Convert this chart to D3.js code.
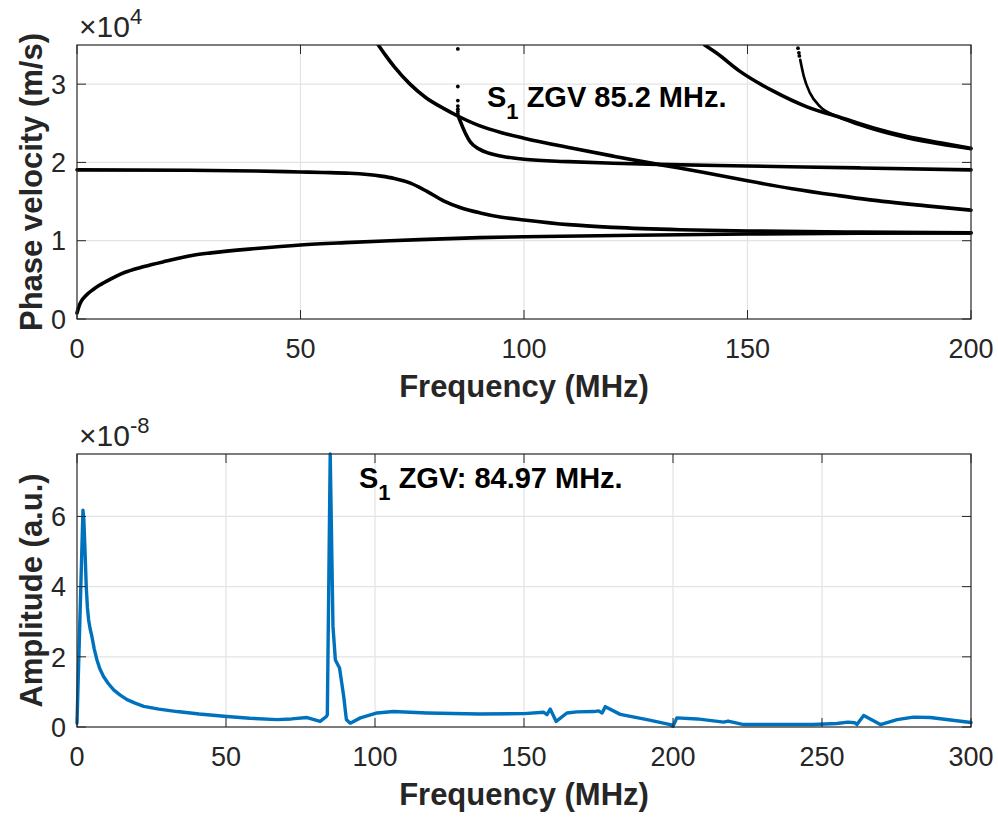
<!DOCTYPE html>
<html>
<head>
<meta charset="utf-8">
<script src="https://cdn.jsdelivr.net/npm/d3@7"></script>
<style>
  body { margin: 0; background: #fff; }
  svg text { font-family: "Liberation Sans", Arial, Helvetica, sans-serif; }
</style>
</head>
<body>
<svg id="fig" width="998" height="820"></svg>
<script>
// ---------- Dispersion curves (frequency in MHz, phase velocity in m/s) ----------
const modeA0 = [[0,770],[0.5,1700],[1,2300],[2,3000],[3.7,3800],[5,4300],[7.5,5100],[10,5800],[15,6700],
  [20,7400],[26,8150],[30,8450],[40,9000],[50,9450],[60,9750],[70,10000],[80,10200],[90,10400],
  [100,10500],[125,10700],[150,10850],[175,10950],[200,11000]];
const modeS0 = [[0,19050],[25,19000],[40,18900],[50,18780],[55,18720],[61,18620],[65,18450],[68,18250],
  [71,17950],[74.6,17350],[78.3,16300],[82,15100],[85.7,14250],[90.2,13550],[95,13000],[100,12650],
  [110,12050],[120,11700],[135,11400],[150,11250],[175,11100],[200,11000]];
const modeA1 = [[67.4,35000],[69,33700],[71,32200],[74.5,30000],[78,28300],[82,26900],[85.3,25900],
  [90,24700],[95,23800],[100,23100],[110,21900],[120,20800],[130,19750],[140,18750],[150,17650],
  [160,16650],[170,15800],[177,15250],[190,14450],[200,13900]];
const modeS1 = [[85.3,25900],[86,24900],[87,23600],[88,22600],[90,21700],[92,21200],[95,20800],[100,20400],
  [110,20100],[120,19900],[130,19750],[150,19550],[175,19300],[200,19050]];
const modeS1Dots = [[85.2,34500],[85.2,29700],[85.2,27900],[85.2,27200],[85.2,26800],[85.2,26500],[85.2,26200]];
const modeA2 = [[140.4,35000],[143,34000],[148.4,31600],[155.8,29100],[163.3,27100],[170.8,25750],
  [178.2,24400],[185.7,23300],[193.1,22500],[200,21800]];
const modeS2 = [[161.8,33100],[162.6,31000],[164,28850],[166.3,27100],[170,25900],[173,25200],
  [178.2,24200],[185.7,23100],[193.1,22300],[200,21700]];
const modeS2Dots = [[161.3,34600],[161.5,34000],[161.6,33600]];

const velTicks = [0, 1, 2, 3];            // ×10^4 m/s
const freqTicksTop = [0, 50, 100, 150, 200];

// ---------- Spectrum (frequency in MHz, amplitude in units of 1e-8) ----------
const specFreq = [0,2.0,2.3,2.7,3.1,3.5,3.9,4.4,5.0,5.8,6.7,7.7,8.9,10.5,12.3,14.5,16.8,19.5,22.4,27.5,
  33.6,41,50.3,58,67.1,72,77.2,81.6,83.7,84.0,
  84.97,85.9,86.7,88.1,89.5,90.4,91.7,95.1,100.7,106.2,117.4,135,150,156.6,157.7,158.8,160.8,164.4,
  167.8,173.4,175.0,176.2,177.3,182.3,191.3,199.1,200,201.3,208.1,217,218.5,223.7,247,255,258.7,
  261,261.7,264,269.6,275.2,280.7,286.3,300];
const specAmp = [0.11,6.18,5.9,5.0,4.0,3.4,3.05,2.8,2.58,2.22,1.91,1.65,1.44,1.24,1.06,0.91,0.78,0.68,0.59,0.51,
  0.44,0.37,0.30,0.25,0.21,0.23,0.27,0.16,0.30,0.35,
  7.78,2.86,1.91,1.68,0.87,0.21,0.11,0.26,0.40,0.44,0.40,0.37,0.38,0.42,0.35,0.51,0.16,0.40,
  0.43,0.44,0.46,0.40,0.58,0.36,0.21,0.07,0.02,0.26,0.23,0.14,0.17,0.07,0.07,0.10,0.14,
  0.12,0.07,0.33,0.07,0.21,0.28,0.27,0.13];
const ampTicks = [0, 2, 4, 6];            // ×10^-8
const freqTicksBottom = [0, 50, 100, 150, 200, 250, 300];

const zgvDispersion = 85.2;
const zgvSpectrum = 84.97;

// ---------- Layout ----------
const svg = d3.select("#fig");
const axisColor = "#262626";
const gridColor = "#e3e3e3";
const tickLen = 9;

function drawAxes(g, x, y, xTicks, yTicks, yTickFmt, xLabel, yLabel, expBase, expSup) {
  const [x0, x1] = x.range();
  const [y0, y1] = y.range(); // y0 bottom, y1 top
  // grid
  g.append("g").selectAll("line.vg").data(xTicks.slice(1, -1)).join("line")
    .attr("x1", d => x(d)).attr("x2", d => x(d)).attr("y1", y1).attr("y2", y0)
    .attr("stroke", gridColor).attr("stroke-width", 1.2);
  g.append("g").selectAll("line.hg").data(yTicks.slice(1)).join("line")
    .attr("y1", d => y(d)).attr("y2", d => y(d)).attr("x1", x0).attr("x2", x1)
    .attr("stroke", gridColor).attr("stroke-width", 1.2);
  return function finish() {
    // ticks (inward, on all four sides)
    const t = g.append("g").attr("stroke", axisColor).attr("stroke-width", 1);
    xTicks.forEach(d => {
      t.append("line").attr("x1", x(d)).attr("x2", x(d)).attr("y1", y0).attr("y2", y0 - tickLen);
      t.append("line").attr("x1", x(d)).attr("x2", x(d)).attr("y1", y1).attr("y2", y1 + tickLen);
    });
    yTicks.forEach(d => {
      t.append("line").attr("y1", y(d)).attr("y2", y(d)).attr("x1", x0).attr("x2", x0 + tickLen);
      t.append("line").attr("y1", y(d)).attr("y2", y(d)).attr("x1", x1).attr("x2", x1 - tickLen);
    });
    g.append("rect").attr("x", x0).attr("y", y1).attr("width", x1 - x0).attr("height", y0 - y1)
      .attr("fill", "none").attr("stroke", axisColor).attr("stroke-width", 1.2);
    // tick labels
    g.append("g").selectAll("text").data(xTicks).join("text")
      .attr("x", d => x(d)).attr("y", y0 + 39).attr("text-anchor", "middle")
      .attr("font-size", 27).attr("fill", axisColor).text(d => d);
    g.append("g").selectAll("text").data(yTicks).join("text")
      .attr("x", x0 - 11).attr("y", d => y(d)).attr("dy", "0.36em").attr("text-anchor", "end")
      .attr("font-size", 27).attr("fill", axisColor).text(yTickFmt);
    // axis labels
    g.append("text").attr("x", (x0 + x1) / 2).attr("y", y0 + 78).attr("text-anchor", "middle")
      .attr("font-size", 31).attr("font-weight", "bold").attr("fill", axisColor).text(xLabel);
    g.append("text").attr("transform", `translate(42,${(y0 + y1) / 2}) rotate(-90)`)
      .attr("text-anchor", "middle").attr("font-size", 31).attr("font-weight", "bold")
      .attr("fill", axisColor).text(yLabel);
    // exponent multiplier
    const e = g.append("text").attr("x", x0 + 2).attr("y", y1 - 8).attr("font-size", 30).attr("fill", axisColor);
    e.append("tspan").text("\u00d7" + expBase);
    e.append("tspan").attr("dy", -13).attr("font-size", 22).text(expSup);
  };
}

// ---------- Top: dispersion curves ----------
const xTop = d3.scaleLinear().domain([0, 200]).range([77, 971]);
const yTop = d3.scaleLinear().domain([0, 35000]).range([319, 45]);
const gTop = svg.append("g");
const finishTop = drawAxes(gTop, xTop, yTop, freqTicksTop, velTicks.map(v => v * 1e4),
  d => d / 1e4, "Frequency (MHz)", "Phase velocity (m/s)", "10", "4");

svg.append("clipPath").attr("id", "clipTop").append("rect")
  .attr("x", 70).attr("y", 45).attr("width", 908).attr("height", 280);
const lineTop = d3.line().x(d => xTop(d[0])).y(d => yTop(d[1])).curve(d3.curveMonotoneX);
const curves = gTop.append("g").attr("clip-path", "url(#clipTop)");
[modeA0, modeS0, modeA1, modeS1, modeA2].forEach(m => {
  curves.append("path").attr("d", lineTop(m)).attr("fill", "none").attr("stroke", "#000")
    .attr("stroke-width", 3.6).attr("stroke-linecap", "round").attr("stroke-linejoin", "round");
});
curves.append("path").attr("d", lineTop(modeS2)).attr("fill", "none").attr("stroke", "#000")
  .attr("stroke-width", 2.6).attr("stroke-linecap", "round");
curves.selectAll("circle.dot").data(modeS1Dots.concat(modeS2Dots)).join("circle")
  .attr("cx", d => xTop(d[0])).attr("cy", d => yTop(d[1])).attr("r", 1.9).attr("fill", "#000");
finishTop();

const lblTop = gTop.append("text").attr("x", 487).attr("y", 107).attr("font-size", 29)
  .attr("font-weight", "bold").attr("fill", "#000");
lblTop.append("tspan").text("S");
lblTop.append("tspan").attr("dy", 12).attr("font-size", 22).text("1");
lblTop.append("tspan").attr("dy", -12).text(` ZGV ${zgvDispersion} MHz.`);

// ---------- Bottom: spectrum ----------
const spectrum = specFreq.map((f, i) => [f, specAmp[i] * 1e-8]);
const xBot = d3.scaleLinear().domain([0, 300]).range([77, 971]);
const yBot = d3.scaleLinear().domain([0, d3.max(specAmp) * 1e-8]).range([727, 454]);
const gBot = svg.append("g");
const finishBot = drawAxes(gBot, xBot, yBot, freqTicksBottom, ampTicks.map(v => v * 1e-8),
  d => Math.round(d / 1e-8), "Frequency (MHz)", "Amplitude (a.u.)", "10", "-8");

svg.append("clipPath").attr("id", "clipBot").append("rect")
  .attr("x", 70).attr("y", 450).attr("width", 908).attr("height", 285);
gBot.append("path").attr("clip-path", "url(#clipBot)")
  .attr("d", d3.line().x(d => xBot(d[0])).y(d => yBot(d[1]))(spectrum))
  .attr("fill", "none").attr("stroke", "#0072BD").attr("stroke-width", 3.4)
  .attr("stroke-linejoin", "round").attr("stroke-linecap", "round");
finishBot();

const lblBot = gBot.append("text").attr("x", 359).attr("y", 488).attr("font-size", 29)
  .attr("font-weight", "bold").attr("fill", "#000");
lblBot.append("tspan").text("S");
lblBot.append("tspan").attr("dy", 12).attr("font-size", 22).text("1");
lblBot.append("tspan").attr("dy", -12).text(` ZGV: ${zgvSpectrum} MHz.`);
</script>
</body>
</html>
